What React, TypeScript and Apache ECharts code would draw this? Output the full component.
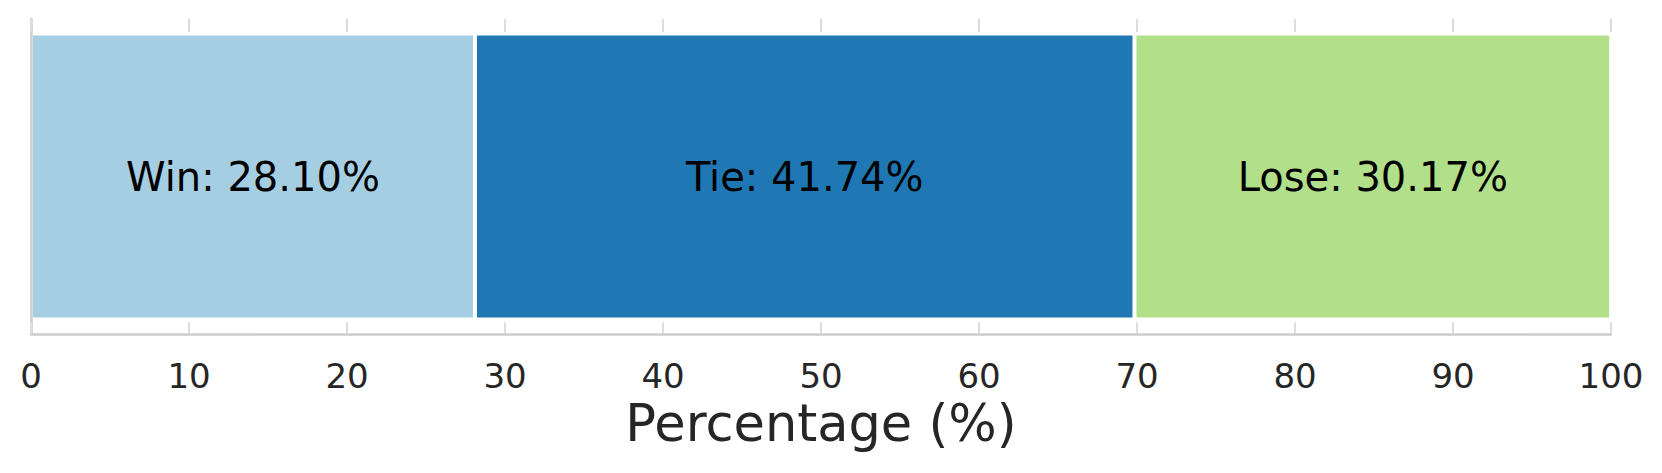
import React, { useEffect, useRef } from "react";
import * as echarts from "echarts";

const categories = ["Result"];
const outcomeNames = ["Win", "Tie", "Lose"];
const outcomeValues = [28.10, 41.74, 30.17];
const outcomeColors = ["#a6cee3", "#1f78b4", "#b2df8a"];
const axisMin = 0;
const axisMax = 100;
const tickInterval = 10;
const axisTitle = "Percentage (%)";

const FONT = "DejaVu Sans";

export default function App() {
  const ref = useRef<HTMLDivElement>(null);
  useEffect(() => {
    if (!ref.current) return;
    const chart = echarts.init(ref.current, null, { renderer: "svg" });
    const series = outcomeNames.map((name, i) => ({
      name,
      type: "bar",
      stack: "total",
      barWidth: 286,
      data: [outcomeValues[i]],
      itemStyle: { color: outcomeColors[i], borderColor: "#ffffff", borderWidth: 2 },
      label: {
        show: true,
        position: "inside",
        formatter: () => `${name}: ${outcomeValues[i].toFixed(2)}%`,
        color: "#000000",
        fontSize: 40,
        fontFamily: FONT,
      },
    }));
    chart.setOption({
      animation: false,
      backgroundColor: "#ffffff",
      grid: { left: 31, right: 51, top: 19, bottom: 139, containLabel: false },
      xAxis: [
        {
          type: "value",
          position: "bottom",
          min: axisMin,
          max: axisMax,
          interval: tickInterval,
          z: 10,
          axisLine: { show: true, lineStyle: { color: "#cccccc", width: 2.5 } },
          axisTick: { show: true, inside: true, length: 12, lineStyle: { color: "#dddddd", width: 2 } },
          axisLabel: { show: true, color: "#262626", fontSize: 34, fontFamily: FONT, margin: 25 },
          splitLine: { show: false },
          name: axisTitle,
          nameLocation: "middle",
          nameGap: 64,
          nameTextStyle: { color: "#262626", fontSize: 51, fontFamily: FONT },
        },
        {
          type: "value",
          position: "top",
          min: axisMin,
          max: axisMax,
          interval: tickInterval,
          z: 10,
          axisLine: { show: false },
          axisTick: { show: true, inside: true, length: 13, lineStyle: { color: "#dddddd", width: 2 } },
          axisLabel: { show: false },
          splitLine: { show: false },
        },
      ],
      yAxis: {
        type: "category",
        data: categories,
        z: 10,
        axisLine: { show: true, lineStyle: { color: "#cccccc", width: 2.5 } },
        axisTick: { show: false },
        axisLabel: { show: false },
        splitLine: { show: false },
      },
      series,
    });
    return () => chart.dispose();
  }, []);
  return (
    <div
      ref={ref}
      style={{ position: "fixed", left: 0, top: 0, width: 1662, height: 473, background: "#fff" }}
    />
  );
}
